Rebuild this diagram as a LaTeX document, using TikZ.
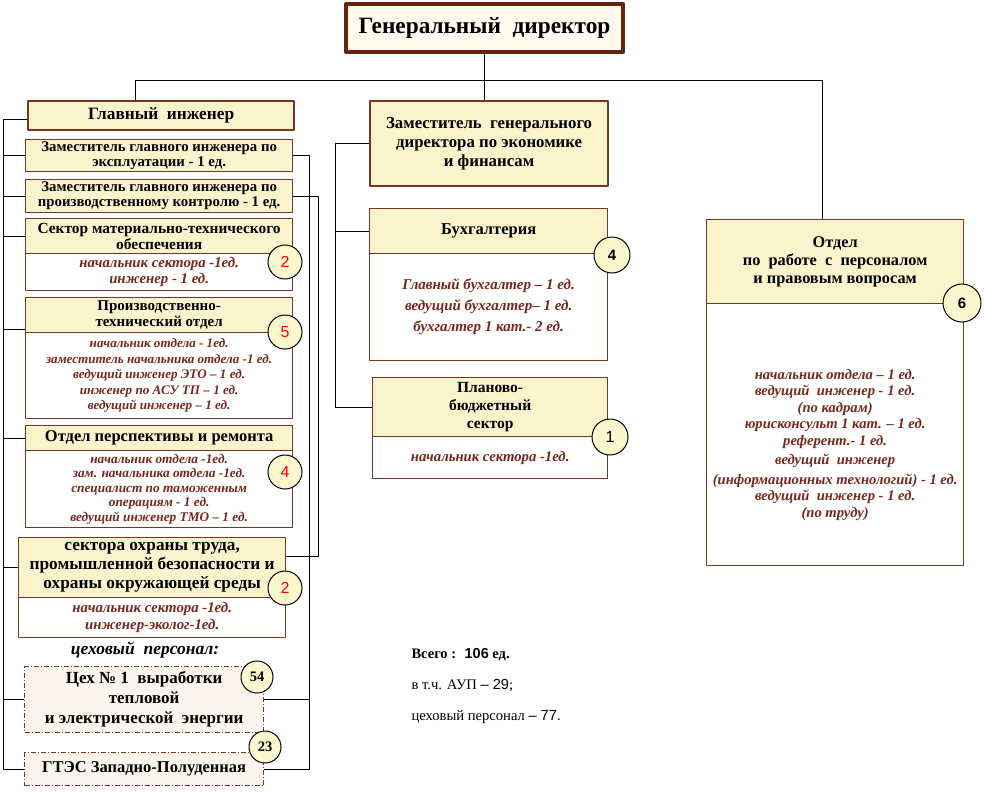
\documentclass[tikz,border=0pt]{standalone}
\usepackage{fontspec}
\setmainfont{Liberation Serif}
\newfontfamily\numfont{Liberation Sans}
\definecolor{brd}{RGB}{122,52,32}
\definecolor{gdbrd}{RGB}{100,36,14}
\definecolor{hdrfill}{RGB}{251,243,204}
\definecolor{gdfill}{RGB}{255,250,236}
\definecolor{itcol}{RGB}{118,38,28}
\definecolor{shopfill}{RGB}{252,245,238}
\definecolor{circfill}{RGB}{252,247,204}
\newcommand{\fs}[2]{\fontsize{#1}{#2}\selectfont}
\begin{document}
\begin{tikzpicture}[x=1pt, y=-1pt, line join=round,
  box/.style={draw=brd, line width=1.3pt, anchor=north west, inner sep=1pt, align=center},
  hdr/.style={box, fill=hdrfill, font=\bfseries},
  body/.style={box, fill=white, font=\bfseries\itshape, text=itcol},
  shop/.style={box, fill=shopfill, font=\bfseries, dash pattern=on 5pt off 2pt on 1pt off 2pt},
  circ/.style={circle, draw=black, line width=1pt, fill=circfill, minimum size=#1, inner sep=0pt},
  link/.style={draw=black, line width=1pt}]
\useasboundingbox (0,0) rectangle (984,793);
% top
\node[box, draw=gdbrd, line width=4pt, fill=gdfill, minimum width=277, minimum height=48, font=\bfseries\fs{23.3}{26}] (gd) at (344,2) {Генеральный \ директор};
% left column
\node[hdr, line width=2.2pt, minimum width=266, minimum height=29, font=\bfseries\fs{17.3}{18}] (gi) at (27,100) {Главный \ инженер};
\node[hdr, minimum width=267, minimum height=32, font=\bfseries\fs{14.8}{15}] (ze) at (25,139) {Заместитель главного инженера по\\эксплуатации - 1 ед.};
\node[hdr, minimum width=267, minimum height=33, font=\bfseries\fs{14.8}{15}] (zp) at (25,179) {Заместитель главного инженера по\\производственному контролю - 1 ед.};
\node[hdr, minimum width=267, minimum height=35, font=\bfseries\fs{15.4}{16}] (mtoh) at (25,218) {Сектор материально-технического\\обеспечения};
\node[body, minimum width=267, minimum height=37, font=\bfseries\itshape\fs{14.8}{16}] (mtob) at (25,253) {начальник сектора -1ед.\\инженер - 1 ед.};
\node[hdr, minimum width=267, minimum height=35, font=\bfseries\fs{15}{16}] (ptoh) at (25,297) {Производственно-\\технический отдел};
\node[body, minimum width=267, minimum height=86, font=\bfseries\itshape\fs{13.1}{15.5}] (ptob) at (25,332) {начальник отдела - 1ед.\\заместитель начальника отдела -1 ед.\\ведущий инженер ЭТО – 1 ед.\\инженер по АСУ ТП – 1 ед.\\ведущий инженер – 1 ед.};
\node[hdr, minimum width=267, minimum height=25, font=\bfseries\fs{16.5}{17}] (oph) at (25,425) {Отдел перспективы и ремонта};
\node[body, minimum width=267, minimum height=77, font=\bfseries\itshape\fs{13.3}{14.5}] (opb) at (25,450) {начальник отдела -1ед.\\зам. начальника отдела -1ед.\\специалист по таможенным\\операциям - 1 ед.\\ведущий инженер ТМО – 1 ед.};
\node[hdr, minimum width=267, minimum height=60, font=\bfseries\fs{17.3}{19}] (ooh) at (18,537) {сектора охраны труда,\\промышленной безопасности и\\охраны окружающей среды};
\node[body, minimum width=267, minimum height=40, font=\bfseries\itshape\fs{14.8}{16.5}] (oob) at (18,597) {начальник сектора -1ед.\\инженер-эколог-1ед.};
\node[font=\bfseries\itshape\fs{17.5}{18}] (cp) at (145,650) {цеховый \ персонал:};
\node[shop, minimum width=239, minimum height=66, font=\bfseries\fs{17}{20}] (c1) at (24,666) {Цех № 1 \ выработки\\тепловой\\и электрической \ энергии};
\node[shop, minimum width=239, minimum height=33, font=\bfseries\fs{16.5}{18}] (gts) at (24,752) {ГТЭС Западно-Полуденная};
% middle column
\node[hdr, line width=2.2pt, minimum width=238, minimum height=85, font=\bfseries\fs{16.8}{19}] (zgd) at (369,100) {Заместитель \ генерального\\директора по экономике\\и финансам};
\node[hdr, minimum width=238, minimum height=45, font=\bfseries\fs{16.5}{17}] (buhh) at (369,208) {Бухгалтерия};
\node[body, minimum width=238, minimum height=107, font=\bfseries\itshape\fs{15}{21}] (buhb) at (369,253) {Главный бухгалтер – 1 ед.\\ведущий бухгалтер– 1 ед.\\бухгалтер 1 кат.- 2 ед.};
\node[hdr, minimum width=235, minimum height=59, font=\bfseries\fs{15.5}{18}] (pbh) at (372,377) {Планово-\\бюджетный\\сектор};
\node[body, minimum width=235, minimum height=42, font=\bfseries\itshape\fs{14.7}{15}] (pbb) at (372,436) {начальник сектора -1ед.};
% right column
\node[hdr, minimum width=257, minimum height=84, font=\bfseries\fs{16.3}{18}] (otdh) at (706,219) {Отдел\\по \ работе \ с \ персоналом\\и правовым вопросам};
\node[body, minimum width=257, minimum height=262, font=\bfseries\itshape\fs{14.6}{16.5}] (otdb) at (706,303) {\mbox{}\\[14pt]начальник отдела – 1 ед.\\ведущий \ инженер - 1 ед.\\(по кадрам)\\юрисконсульт 1 кат. – 1 ед.\\референт.- 1 ед.\\[3pt]ведущий \ инженер\\[3pt](информационных технологий) - 1 ед.\\ведущий \ инженер - 1 ед.\\(по труду)};
% counts
\node[circ=34, text=red, font=\numfont\fs{16}{16}] (n1) at (285,262) {2};
\node[circ=34, text=red, font=\numfont\fs{16}{16}] (n2) at (285,332) {5};
\node[circ=34, text=red, font=\numfont\fs{16}{16}] (n3) at (285,472) {4};
\node[circ=34, text=red, font=\numfont\fs{16}{16}] (n4) at (285,588) {2};
\node[circ=32, font=\bfseries\fs{14.5}{14}] (n5) at (257,677) {54};
\node[circ=32, font=\bfseries\fs{14.5}{14}] (n6) at (265,747) {23};
\node[circ=36, font=\numfont\bfseries\fs{15}{15}] (n7) at (612,255) {4};
\node[circ=36, font=\numfont\fs{16}{16}] (n8) at (610,437) {1};
\node[circ=38, font=\numfont\bfseries\fs{15}{15}] (n9) at (962,303) {6};
% totals
\node[anchor=west, font=\bfseries\fs{14.5}{15}] (t1) at (408,655) {Всего : \ {\numfont 106} ед.};
\node[anchor=west, font=\fs{14.6}{15}] (t2) at (408,686) {в т.ч. АУП {\numfont – 29};};
\node[anchor=west, font=\fs{14.6}{15}] (t3) at (408,717) {цеховый персонал {\numfont – 77.}};
% links
\path (135,80) coordinate (busL) (822,80) coordinate (busR) (3,0) coordinate (lbus)
      (309,0) coordinate (rbus1) (318,0) coordinate (rbus2) (335,0) coordinate (mbus);
\draw[link] (gd.south) -- (gd.south |- zgd.north);
\draw[link] (busL) -- (busR);
\draw[link] (busL) -- (busL |- gi.north);
\draw[link] (busR) -- (busR |- otdh.north);
\draw[link] ([yshift=-4pt]gi.west) -- ([yshift=-4pt]gi.west -| lbus) -- (gts.west -| lbus) -- (gts.west);
\foreach \b in {ze, zp, mtoh, oph, c1}
  \draw[link] (\b.west) -- (\b.west -| lbus);
\draw[link] ([yshift=4pt]ptoh.south west) -- ([yshift=4pt]ptoh.south west -| lbus);
\draw[link] (ooh.west) -- (ooh.west -| lbus);
\draw[link] (ze.east) -- (ze.east -| rbus1) -- (gts.east -| rbus1) -- (gts.east);
\draw[link] (c1.east) -- (c1.east -| rbus1);
\draw[link] (zp.east) -- (zp.east -| rbus2) -- ([yshift=11pt]ooh.east -| rbus2) -- ([yshift=11pt]ooh.east);
\draw[link] (zgd.west) -- (zgd.west -| mbus) -- (pbh.west -| mbus) -- (pbh.west);
\draw[link] (buhh.west) -- (buhh.west -| mbus);
\end{tikzpicture}
\end{document}
